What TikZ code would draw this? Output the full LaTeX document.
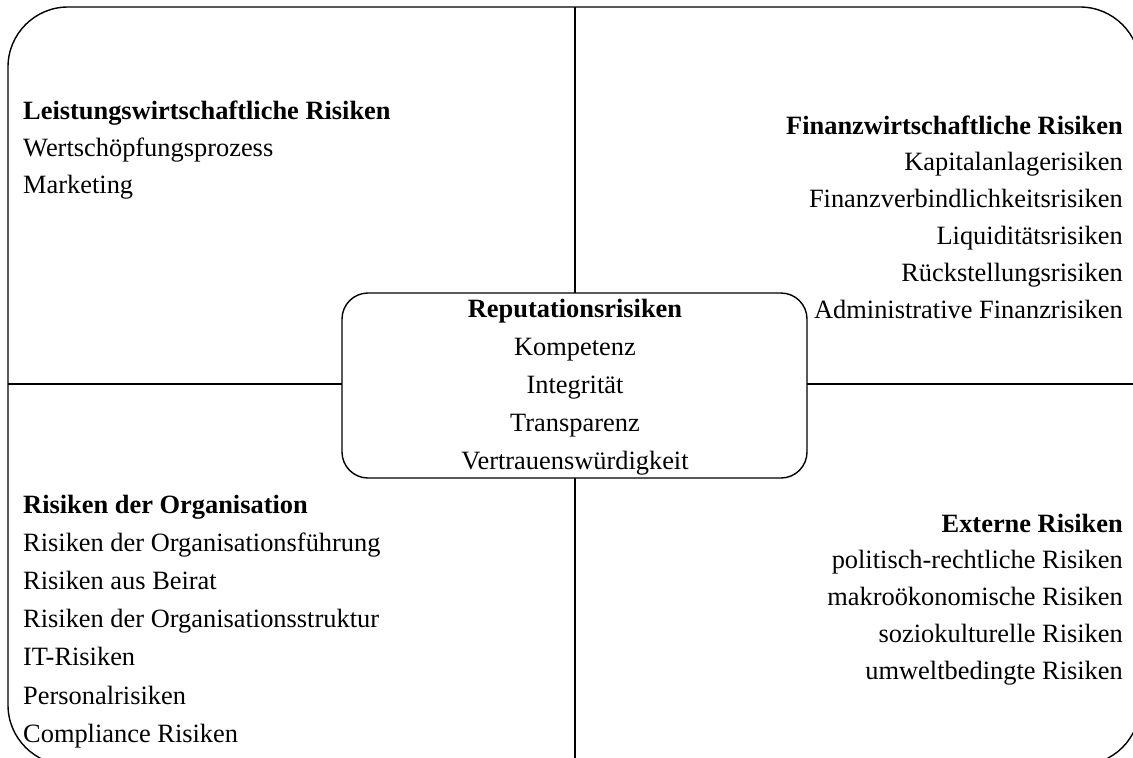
\documentclass[tikz,border=0pt]{standalone}
\usepackage{fontspec}
\setmainfont{Liberation Serif}
\begin{document}
\begin{tikzpicture}[x=1pt,y=-1pt,
  frame/.style={draw=black,line width=1.4pt},
  divider/.style={draw=black,line width=1.3pt},
  entry/.style={inner sep=0pt,font=\fontsize{26.4}{30}\selectfont},
  head/.style={entry,font=\fontsize{26.4}{30}\selectfont\bfseries},
  centerbox/.style={draw=black,fill=white,line width=1.4pt,rounded corners=26pt}]
\useasboundingbox (0,0) rectangle (1133,758);
\clip (0,0) rectangle (1133,758);

% outer frame and quadrant dividers
\draw[frame,rounded corners=60pt] (8,7) rectangle (1140,765);
\coordinate (vtop) at (575,7);
\coordinate (vbot) at (575,765);
\coordinate (hleft) at (8,384);
\coordinate (hright) at (1140,384);
\draw[divider] (vtop) -- (vbot);
\draw[divider] (hleft) -- (hright);

% central box
\node[centerbox,minimum width=465pt,minimum height=185pt] (rep) at (574.5,385.5) {};
\node[head,anchor=base] (rep0) at (575,317) {Reputationsrisiken};
\foreach \t [count=\i] in {Kompetenz,Integrität,Transparenz,Vertrauenswürdigkeit}
  \node[entry,anchor=base] (rep\i) at (575,317+38*\i) {\t};

% top left quadrant
\node[head,anchor=base west] (lw0) at (23,119) {Leistungswirtschaftliche Risiken};
\foreach \t [count=\i] in {Wertschöpfungsprozess,Marketing}
  \node[entry,anchor=base west] (lw\i) at (23,119+37*\i) {\t};

% top right quadrant
\node[head,anchor=base east] (fw0) at (1123,134) {Finanzwirtschaftliche Risiken};
\foreach \t [count=\i] in {Kapitalanlagerisiken,Finanzverbindlichkeitsrisiken,Liquiditätsrisiken,Rückstellungsrisiken,Administrative Finanzrisiken}
  \node[entry,anchor=base east] (fw\i) at (1123,134+36.8*\i) {\t};

% bottom left quadrant
\node[head,anchor=base west] (org0) at (23,513) {Risiken der Organisation};
\foreach \t [count=\i] in {Risiken der Organisationsführung,Risiken aus Beirat,Risiken der Organisationsstruktur,IT-Risiken,Personalrisiken,Compliance Risiken}
  \node[entry,anchor=base west] (org\i) at (23,513+38.2*\i) {\t};

% bottom right quadrant
\node[head,anchor=base east] (ext0) at (1123,532) {Externe Risiken};
\foreach \t [count=\i] in {politisch-rechtliche Risiken,makroökonomische Risiken,soziokulturelle Risiken,umweltbedingte Risiken}
  \node[entry,anchor=base east] (ext\i) at (1123,532+36.8*\i) {\t};
\end{tikzpicture}
\end{document}
